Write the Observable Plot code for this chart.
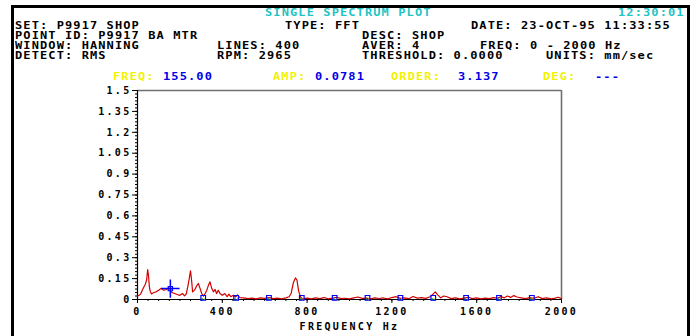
<!DOCTYPE html>
<html><head><meta charset="utf-8">
<script src="https://cdn.jsdelivr.net/npm/d3@7"></script>
<script src="https://cdn.jsdelivr.net/npm/@observablehq/plot@0.6"></script>
<style>
body{margin:0;background:#fff;width:696px;height:336px;overflow:hidden;position:relative;font-family:"DejaVu Sans Mono",monospace;}
#frame{position:absolute;left:11px;top:5px;width:679px;height:400px;border:3px solid #000;border-bottom:none;box-sizing:border-box;}
.t{position:absolute;font-size:10px;line-height:10px;font-weight:bold;letter-spacing:0.92px;transform:scaleX(1.2);transform-origin:0 0;white-space:pre;color:#000;}
.c{color:#1fc4c4}.y{color:#f2f200}.b{color:#0000e8}
#chart{position:absolute;left:0;top:80px;}
</style></head><body>
<div id="frame"></div>
<div id="header">
<span class="t c" style="left:265px;top:8px">SINGLE SPECTRUM PLOT</span>
<span class="t c" style="left:618px;top:8px">12:30:01</span>
<span class="t" style="left:15px;top:21px">SET: P9917 SHOP</span>
<span class="t" style="left:285px;top:21px">TYPE: FFT</span>
<span class="t" style="left:471px;top:21px">DATE: 23-OCT-95 11:33:55</span>
<span class="t" style="left:15px;top:31px">POINT ID: P9917 BA MTR</span>
<span class="t" style="left:362px;top:31px">DESC: SHOP</span>
<span class="t" style="left:15px;top:41px">WINDOW: HANNING</span>
<span class="t" style="left:217px;top:41px">LINES: 400</span>
<span class="t" style="left:362px;top:41px">AVER: 4</span>
<span class="t" style="left:480px;top:41px">FREQ: 0 - 2000 Hz</span>
<span class="t" style="left:15px;top:51px">DETECT: RMS</span>
<span class="t" style="left:217px;top:51px">RPM: 2965</span>
<span class="t" style="left:362px;top:51px">THRESHOLD: 0.0000</span>
<span class="t" style="left:546px;top:51px">UNITS: mm/sec</span>
<span class="t y" style="left:113px;top:71.5px">FREQ:</span>
<span class="t b" id="vFreq" style="left:163px;top:71.5px"></span>
<span class="t y" style="left:273px;top:71.5px">AMP:</span>
<span class="t b" id="vAmp" style="left:315px;top:71.5px"></span>
<span class="t y" style="left:391px;top:71.5px">ORDER:</span>
<span class="t b" id="vOrder" style="left:458px;top:71.5px"></span>
<span class="t y" style="left:543px;top:71.5px">DEG:</span>
<span class="t b" style="left:595px;top:71.5px">---</span>
</div>
<div id="chart"></div>
<script>
// Spectrum (Hz, mm/sec)
const freq = [0,8,15,22,30,37,43,48,52,56,60,66,77,88,100,112,123,134,147,155,162,175,187,200,212,222,230,237,244,250,255,260,269,280,287,295,303,311,319,327,334,342,350,358,366,373,381,389,400,412,423,431,440,452,462,472,483,
500,520,540,560,580,600,620,640,660,680,700,715,725,735,745,752,760,770,780,800,820,840,860,880,900,920,940,960,980,1000,1020,1040,1060,1080,1100,1120,1140,1160,1180,1200,1220,1240,1260,1280,1300,1320,1340,1360,1380,1395,1405,1415,1430,1445,1460,1480,1500,1520,1540,1560,1580,1600,1620,1640,1660,1680,1700,1715,1730,1745,1760,1775,1790,1810,1830,1850,1870,1890,1910,1930,1950,1970,1985,2000];
const amp = [0.025,0.03,0.04,0.065,0.09,0.11,0.14,0.215,0.17,0.09,0.06,0.04,0.05,0.055,0.067,0.08,0.067,0.07,0.083,0.075,0.05,0.043,0.036,0.03,0.043,0.026,0.04,0.09,0.15,0.205,0.14,0.055,0.067,0.10,0.115,0.08,0.043,0.024,0.043,0.067,0.10,0.127,0.08,0.055,0.072,0.043,0.067,0.043,0.03,0.043,0.02,0.038,0.02,0.03,0.018,0.033,0.014,
0.012,0.006,0.010,0.004,0.012,0.008,0.014,0.006,0.010,0.005,0.012,0.020,0.045,0.120,0.155,0.140,0.060,0.015,0.006,0.010,0.004,0.012,0.006,0.014,0.005,0.010,0.016,0.006,0.009,0.004,0.012,0.018,0.008,0.010,0.005,0.012,0.007,0.011,0.004,0.014,0.020,0.008,0.012,0.006,0.022,0.010,0.014,0.008,0.020,0.040,0.055,0.035,0.012,0.025,0.020,0.006,0.012,0.005,0.010,0.016,0.006,0.012,0.004,0.010,0.006,0.014,0.010,0.022,0.012,0.025,0.015,0.028,0.018,0.012,0.006,0.014,0.008,0.020,0.006,0.012,0.004,0.010,0.016,0.005];
// Harmonic markers (multiples of cursor frequency)
const harmonicFreq = [310,465,620,775,930,1085,1240,1395,1550,1705,1860];
const harmonicAmp  = [0.012,0.012,0.012,0.012,0.012,0.012,0.012,0.012,0.012,0.012,0.012];
// Cursor
const cursorFreq = [155.00];
const cursorAmp = [0.0781];
const cursorOrder = [3.137];
// Axis ticks
const yTicks = [0,0.15,0.3,0.45,0.6,0.75,0.9,1.05,1.2,1.35,1.5];
const xTicks = [0,400,800,1200,1600,2000];

document.getElementById("vFreq").textContent = cursorFreq[0].toFixed(2);
document.getElementById("vAmp").textContent = cursorAmp[0].toFixed(4);
document.getElementById("vOrder").textContent = cursorOrder[0].toFixed(3);

const spectrum = freq.map((f,i)=>({f, a: amp[i]}));
const harmonics = harmonicFreq.map((f,i)=>({f, a: harmonicAmp[i]}));
const cursor = cursorFreq.map((f,i)=>({f, a: cursorAmp[i]}));

const chart = Plot.plot({
  width: 696, height: 256,
  marginTop: 10, marginBottom: 37, marginLeft: 137, marginRight: 135,
  style: {fontFamily: "DejaVu Sans Mono, monospace", fontWeight: "bold", fontSize: "10px", letterSpacing: "2.3px", color: "#000", background: "transparent", overflow: "visible"},
  x: {domain: [0, 2000]},
  y: {domain: [0, 1.5]},
  marks: [
    Plot.ruleY([1.5], {stroke: "#707070", strokeWidth: 1.6}),
    Plot.ruleX([2000], {y1: 0, y2: 1.5, stroke: "#707070", strokeWidth: 1.6}),
    Plot.axisY({ticks: yTicks, tickSize: 5, tickPadding: 1, tickFormat: d => String(d), label: null}),
    Plot.axisY({ticks: d3.range(0, 1.5001, 0.025), tickSize: 2, text: null, label: null}),
    Plot.axisX({ticks: xTicks, tickSize: 4, tickPadding: 4, tickFormat: "d", label: "FREQUENCY Hz", labelAnchor: "center", labelOffset: 30, labelArrow: "none"}),
    Plot.axisX({ticks: d3.range(0, 2001, 50), tickSize: 2, text: null, label: null}),
    Plot.ruleX([0], {y1: 0, y2: 1.5, stroke: "#000", strokeWidth: 1.2}),
    Plot.ruleY([0], {stroke: "#000", strokeWidth: 1.2}),
    Plot.line(spectrum, {x: "f", y: "a", stroke: "#d00000", strokeWidth: 1.2}),
    Plot.dot(harmonics, {x: "f", y: "a", r: 1.2, fill: "#00b000", dx: -1, dy: 1.5}),
    Plot.dot(harmonics, {x: "f", y: "a", r: 1, fill: "#e8e800", dx: 1.5, dy: 1.5}),
    Plot.dot(harmonics, {x: "f", y: "a", symbol: "square", r: 2.6, fill: "none", stroke: "#0000ff", strokeWidth: 1.2}),
    Plot.dot(cursor, {x: "f", y: "a", symbol: "square", r: 2.4, fill: "none", stroke: "#0000ff", strokeWidth: 1.2}),
    Plot.dot(cursor, {x: "f", y: "a", r: 1.3, fill: "#00b000", dy: 2}),
    Plot.dot(cursor, {x: "f", y: "a", symbol: "plus", r: 6, stroke: "#0000ff", strokeWidth: 1.5})
  ]
});
document.getElementById("chart").appendChild(chart);
</script>
</body></html>
